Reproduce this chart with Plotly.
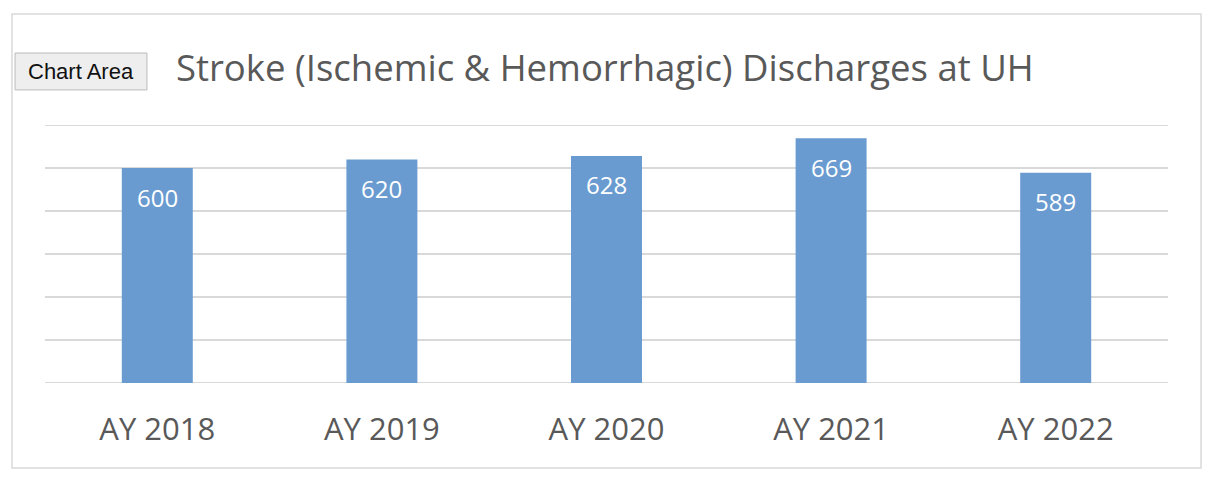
## ----------- imports ----------- ##
import plotly.graph_objects as go


## ----------- data ----------- ##
YEARS = ["AY 2018", "AY 2019", "AY 2020", "AY 2021", "AY 2022"]
DISCHARGES = [600, 620, 628, 669, 589]
TITLE = "Stroke (Ischemic & Hemorrhagic) Discharges at UH"
Y_MIN, Y_MAX = 100, 700

BAR_COLOR = "#699BD0"
GRID_COLOR = "#D9D9D9"
TEXT_COLOR = "#595959"
FONT = "Open Sans, Noto Sans, sans-serif"


def build_figure():
    fig = go.Figure()

    fig.add_trace(go.Bar(
        x=YEARS,
        y=DISCHARGES,
        marker=dict(color=BAR_COLOR, line=dict(width=0)),
        width=0.316,
        hoverinfo="x+y",
        showlegend=False,
    ))

    ## data labels sit a bit below the top of each bar
    for yr, val in zip(YEARS, DISCHARGES):
        fig.add_annotation(
            x=yr, y=val, text=str(val), showarrow=False,
            yshift=-29, yanchor="middle",
            font=dict(family=FONT, size=24, color="white"),
        )

    ## plotly drops gridlines right on the range edges, so draw those two by hand
    for yv in (Y_MIN, Y_MAX):
        fig.add_hline(y=yv, line=dict(color=GRID_COLOR, width=2), layer="below")

    ## the "Chart Area" tooltip box left over from the screenshot
    fig.add_shape(
        type="rect", xref="paper", yref="paper",
        x0=-0.0267, x1=0.0908, y0=1.136, y1=1.279,
        fillcolor="#EEEEEE", line=dict(color="#BBBBBB", width=1),
    )
    fig.add_annotation(
        xref="paper", yref="paper", x=0.0321, y=1.207,
        xanchor="center", yanchor="middle",
        text="Chart Area", showarrow=False,
        font=dict(family="Liberation Sans, Arial, sans-serif", size=22, color="#111111"),
    )

    ## outer chart frame
    fig.add_shape(
        type="rect", xref="paper", yref="paper",
        x0=-0.0294, x1=1.0294, y0=-0.329, y1=1.430,
        line=dict(color=GRID_COLOR, width=1.5), layer="below",
    )

    fig.update_layout(
        width=1218, height=482,
        margin=dict(l=37, r=58, t=117, b=107),
        paper_bgcolor="white", plot_bgcolor="white",
        title=dict(
            text=TITLE, x=0.490, xanchor="center", y=0.8755, yanchor="middle",
            font=dict(family=FONT, size=36.5, color=TEXT_COLOR),
        ),
        font=dict(family=FONT, color=TEXT_COLOR),
        bargap=0.684,
    )
    fig.update_xaxes(
        showgrid=False, showline=False, ticks="",
        tickfont=dict(family=FONT, size=31, color=TEXT_COLOR),
        ticklabelstandoff=25,
    )
    fig.update_yaxes(
        range=[Y_MIN, Y_MAX], dtick=100, tick0=0, showticklabels=False,
        showgrid=True, gridcolor=GRID_COLOR, gridwidth=2,
        zeroline=False, showline=False,
    )
    return fig


def main():
    fig = build_figure()
    fig.write_html("out.html")


if __name__ == "__main__":
    main()
